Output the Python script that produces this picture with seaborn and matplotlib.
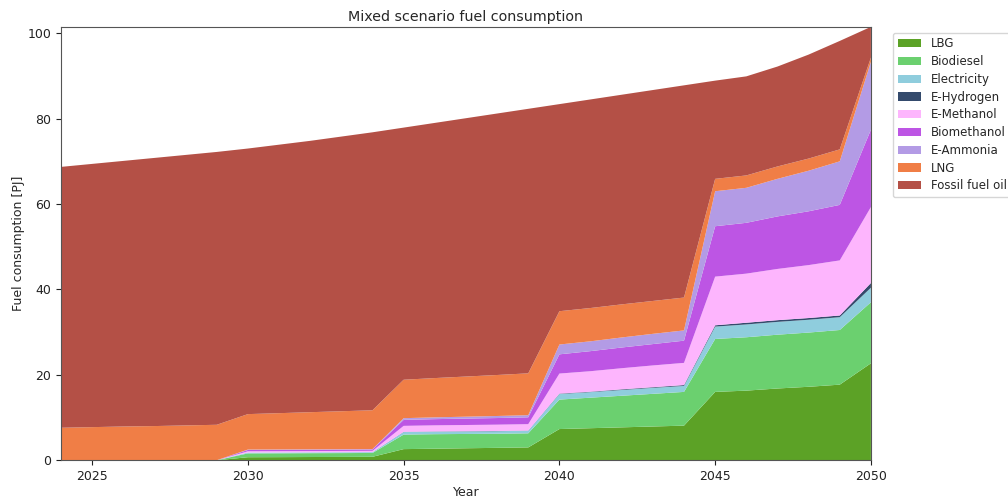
import numpy as np
import pandas as pd
import matplotlib
matplotlib.use("Agg")
import matplotlib.pyplot as plt
import seaborn as sns

years = list(range(2024, 2051))

lbg = [0, 0, 0, 0, 0, 0,
       0.7, 0.72, 0.75, 0.77, 0.8,
       2.6, 2.7, 2.8, 2.9, 3.0,
       7.3, 7.5, 7.7, 7.9, 8.1,
       16.0, 16.3, 16.8, 17.2, 17.7, 22.7]
biodiesel = [0, 0, 0, 0, 0, 0,
             0.9, 0.9, 0.9, 0.9, 0.9,
             3.4, 3.4, 3.35, 3.3, 3.3,
             6.9, 7.15, 7.4, 7.65, 7.9,
             12.4, 12.5, 12.6, 12.7, 12.8, 14.3]
electricity = [0, 0, 0, 0, 0, 0,
               0.2, 0.2, 0.2, 0.2, 0.2,
               0.6, 0.6, 0.6, 0.6, 0.6,
               1.3, 1.3, 1.35, 1.4, 1.4,
               2.9, 3.0, 3.0, 3.0, 3.0, 3.4]
e_hydrogen = [0, 0, 0, 0, 0, 0,
              0, 0, 0, 0, 0,
              0.05, 0.05, 0.05, 0.05, 0.05,
              0.1, 0.1, 0.15, 0.15, 0.2,
              0.3, 0.4, 0.4, 0.4, 0.4, 1.1]
e_methanol = [0, 0, 0, 0, 0, 0,
              0.3, 0.3, 0.3, 0.3, 0.3,
              1.4, 1.42, 1.45, 1.48, 1.5,
              4.7, 4.8, 4.95, 5.1, 5.2,
              11.4, 11.5, 12.0, 12.4, 12.9, 17.8]
biomethanol = [0, 0, 0, 0, 0, 0,
               0.3, 0.3, 0.3, 0.3, 0.3,
               1.4, 1.45, 1.5, 1.55, 1.6,
               4.5, 4.7, 4.85, 5.0, 5.2,
               11.8, 11.9, 12.3, 12.6, 13.0, 18.1]
e_ammonia = [0, 0, 0, 0, 0, 0,
             0.1, 0.1, 0.1, 0.1, 0.1,
             0.4, 0.42, 0.45, 0.48, 0.5,
             2.3, 2.3, 2.35, 2.4, 2.4,
             8.2, 8.2, 8.8, 9.5, 10.2, 15.9]
lng = [7.6, 7.75, 7.9, 8.0, 8.15, 8.3,
       8.3, 8.5, 8.7, 8.9, 9.1,
       9.0, 9.2, 9.4, 9.6, 9.8,
       7.8, 7.8, 7.75, 7.7, 7.7,
       2.9, 2.9, 2.9, 2.85, 2.8, 1.0]
fossil_fuel_oil = [61.1, 61.65, 62.2, 62.8, 63.35, 63.9,
                   62.2, 62.88, 63.55, 64.33, 65.1,
                   59.05, 59.76, 60.5, 61.24, 61.95,
                   48.5, 48.85, 49.1, 49.4, 49.7,
                   23.0, 23.2, 23.4, 24.35, 25.4, 7.2]

fuels = ["LBG", "Biodiesel", "Electricity", "E-Hydrogen", "E-Methanol",
         "Biomethanol", "E-Ammonia", "LNG", "Fossil fuel oil"]
fuel_colors = ["#5ca226", "#6bd06f", "#8fcddd", "#344a6c", "#fdb5fd",
               "#bd55e4", "#b39be5", "#f07e46", "#b45046"]

df = pd.DataFrame({
    "Year": years,
    "LBG": lbg,
    "Biodiesel": biodiesel,
    "Electricity": electricity,
    "E-Hydrogen": e_hydrogen,
    "E-Methanol": e_methanol,
    "Biomethanol": biomethanol,
    "E-Ammonia": e_ammonia,
    "LNG": lng,
    "Fossil fuel oil": fossil_fuel_oil,
})

sns.set_style("ticks")
plt.rcParams["font.family"] = ["DejaVu Sans"]
palette = sns.color_palette(fuel_colors)

fig, ax = plt.subplots(figsize=(10.08, 4.97), dpi=100)
fig.subplots_adjust(left=0.0605, right=0.864, top=0.946, bottom=0.074)

ax.stackplot(df["Year"], [df[f] for f in fuels], labels=fuels,
             colors=palette, linewidth=0, edgecolor="none")

ax.margins(x=0, y=0)
ax.set_title("Mixed scenario fuel consumption", fontsize=10.3, pad=4)
ax.set_xlabel("Year", fontsize=9, labelpad=2)
ax.set_ylabel("Fuel consumption [PJ]", fontsize=9, labelpad=2)
ax.tick_params(labelsize=9, colors="#222222")
for s in ax.spines.values():
    s.set_color("#555555")

ax.legend(loc="upper left", bbox_to_anchor=(1.02, 1.0), fontsize=8.5,
          labelspacing=0.4, frameon=True, edgecolor="#cccccc", fancybox=True)

fig.savefig("out.png", dpi=100)
